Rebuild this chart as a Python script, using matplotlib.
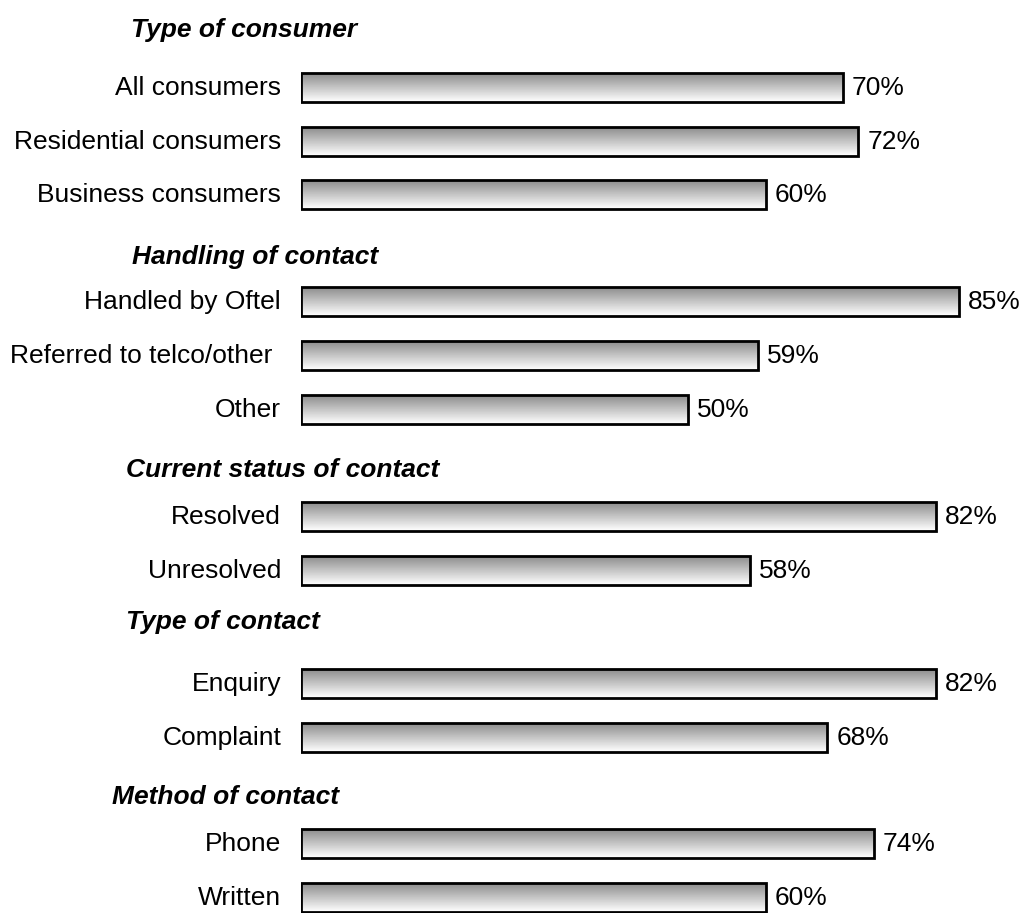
import numpy as np
import matplotlib.pyplot as plt

plt.rcParams['font.family'] = ['Liberation Sans', 'DejaVu Sans']

headings = ['Type of consumer', 'Handling of contact', 'Current status of contact',
            'Type of contact', 'Method of contact']
labels = ['All consumers', 'Residential consumers', 'Business consumers',
          'Handled by Oftel', 'Referred to telco/other', 'Other',
          'Resolved', 'Unresolved',
          'Enquiry', 'Complaint',
          'Phone', 'Written']
values = [70, 72, 60, 85, 59, 50, 82, 58, 82, 68, 74, 60]

# layout (pixel rows, y grows downward)
row_y = [88, 142, 195, 302, 356, 410, 517, 571, 684, 738, 844, 898]
head_y = [30, 257, 470, 622, 797]
head_x = [131, 132, 126, 126, 112]
bar_h = 29
fs = 19

fig = plt.figure(figsize=(10.24, 9.13), dpi=100)
ax = fig.add_axes([301 / 1024, 0, 720 / 1024, 1])
ax.set_xlim(0, 93)
ax.set_ylim(913, 0)
ax.axis('off')

px = 720 / 93  # pixels per percent
grad = np.linspace(0.55, 1.0, 64).reshape(-1, 1)

for lab, v, y in zip(labels, values, row_y):
    ax.imshow(grad, cmap='gray', vmin=0, vmax=1, aspect='auto',
              extent=(0, v, y + bar_h / 2, y - bar_h / 2), origin='upper',
              interpolation='bilinear', zorder=1)
    ax.add_patch(plt.Rectangle((0, y - bar_h / 2), v, bar_h, fill=False,
                               edgecolor='black', linewidth=2, zorder=2))
    ax.text(v + 9 / px, y, f'{v}%', ha='left', va='center', fontsize=fs)
    off = 29 if lab == 'Referred to telco/other' else 20
    ax.text(-off / px, y, lab, ha='right', va='center', fontsize=fs, clip_on=False)

for h, x, y in zip(headings, head_x, head_y):
    fig.text(x / 1024, 1 - y / 913, h, ha='left', va='center', fontsize=fs,
             fontweight='bold', fontstyle='italic')

fig.savefig('out.png', dpi=100)
